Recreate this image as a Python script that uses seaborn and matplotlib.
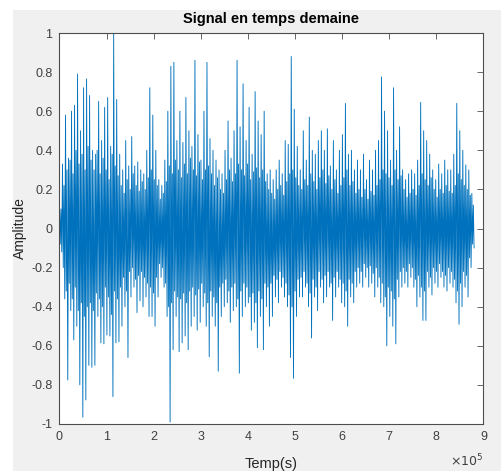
import numpy as np
import pandas as pd
import matplotlib
matplotlib.use("Agg")
import matplotlib.pyplot as plt
import seaborn as sns
from matplotlib.patches import Rectangle

# positive peaks of the signal, left to right
upper = [0.12, 0.33, 0.58, 0.36, 0.60, 0.63, 0.79, 0.50, 0.72, 0.765,
         0.68, 0.40, 0.38, 0.65, 0.45, 0.62, 0.67, 0.42, 1.00, 0.66,
         0.38, 0.30, 0.45, 0.32, 0.47, 0.32, 0.34, 0.30, 0.28, 0.40,
         0.72, 0.58, 0.40, 0.25, 0.22, 0.35, 0.60, 0.83, 0.85, 0.45,
         0.60, 0.44, 0.67, 0.50, 0.42, 0.86, 0.48, 0.35, 0.60, 0.85,
         0.46, 0.40, 0.35, 0.30, 0.28, 0.40, 0.55, 0.36, 0.50, 0.86,
         0.52, 0.74, 0.45, 0.62, 0.38, 0.70, 0.55, 0.48, 0.60, 0.28,
         0.30, 0.25, 0.30, 0.35, 0.28, 0.45, 0.43, 0.88, 0.61, 0.42,
         0.30, 0.50, 0.35, 0.57, 0.40, 0.38, 0.45, 0.50, 0.40, 0.51,
         0.32, 0.45, 0.30, 0.40, 0.48, 0.64, 0.38, 0.40, 0.30, 0.35,
         0.30, 0.38, 0.25, 0.35, 0.30, 0.40, 0.45, 0.775, 0.60, 0.50,
         0.35, 0.72, 0.40, 0.52, 0.30, 0.25, 0.28, 0.30, 0.28, 0.35,
         0.645, 0.50, 0.45, 0.38, 0.30, 0.25, 0.33, 0.28, 0.35, 0.30,
         0.30, 0.38, 0.64, 0.50, 0.40, 0.325, 0.30, 0.18]

# negative peaks of the signal, left to right
lower = [-0.12, -0.36, -0.775, -0.42, -0.57, -0.50, -0.80, -0.965, -0.877, -0.70,
         -0.71, -0.70, -0.45, -0.585, -0.59, -0.545, -0.55, -0.86, -0.585, -0.58,
         -0.50, -0.40, -0.66, -0.35, -0.30, -0.43, -0.37, -0.40, -0.35, -0.45,
         -0.45, -0.50, -0.35, -0.25, -0.30, -0.45, -0.99, -0.62, -0.45, -0.63,
         -0.585, -0.55, -0.62, -0.50, -0.45, -0.52, -0.48, -0.40, -0.50, -0.656,
         -0.45, -0.50, -0.73, -0.45, -0.40, -0.38, -0.48, -0.42, -0.40, -0.74,
         -0.45, -0.40, -0.38, -0.52, -0.48, -0.61, -0.45, -0.62, -0.40, -0.50,
         -0.45, -0.35, -0.38, -0.30, -0.35, -0.40, -0.66, -0.766, -0.45, -0.35,
         -0.35, -0.30, -0.40, -0.56, -0.35, -0.42, -0.30, -0.38, -0.35, -0.30,
         -0.47, -0.35, -0.30, -0.38, -0.40, -0.50, -0.35, -0.38, -0.30, -0.28,
         -0.30, -0.25, -0.30, -0.28, -0.35, -0.30, -0.38, -0.40, -0.60, -0.45,
         -0.50, -0.59, -0.35, -0.30, -0.28, -0.30, -0.25, -0.30, -0.40, -0.35,
         -0.47, -0.47, -0.30, -0.34, -0.28, -0.30, -0.25, -0.30, -0.32, -0.28,
         -0.30, -0.38, -0.49, -0.40, -0.30, -0.35, -0.20, -0.10]

# smaller swings that make up the dense core of the signal
core_hi = [0.10, 0.22, 0.30, 0.35, 0.28, 0.40, 0.33, 0.38, 0.30, 0.42,
           0.35, 0.30, 0.40, 0.28, 0.36, 0.30, 0.25, 0.38, 0.32, 0.27,
           0.22, 0.18, 0.25, 0.20, 0.28, 0.22, 0.19, 0.24, 0.20, 0.26,
           0.30, 0.25, 0.22, 0.15, 0.18, 0.24, 0.32, 0.28, 0.35, 0.30,
           0.26, 0.33, 0.28, 0.36, 0.30, 0.27, 0.34, 0.25, 0.30, 0.32,
           0.28, 0.22, 0.26, 0.20, 0.18, 0.25, 0.30, 0.24, 0.28, 0.33,
           0.30, 0.27, 0.33, 0.25, 0.29, 0.31, 0.26, 0.30, 0.24, 0.20,
           0.18, 0.15, 0.20, 0.22, 0.17, 0.24, 0.28, 0.30, 0.26, 0.22,
           0.20, 0.25, 0.22, 0.28, 0.24, 0.20, 0.26, 0.30, 0.23, 0.27,
           0.20, 0.25, 0.18, 0.22, 0.26, 0.30, 0.22, 0.24, 0.18, 0.20,
           0.16, 0.20, 0.15, 0.19, 0.17, 0.22, 0.25, 0.30, 0.28, 0.26,
           0.22, 0.30, 0.25, 0.27, 0.20, 0.16, 0.18, 0.20, 0.17, 0.22,
           0.28, 0.25, 0.22, 0.26, 0.20, 0.16, 0.20, 0.18, 0.22, 0.19,
           0.18, 0.22, 0.28, 0.25, 0.22, 0.20, 0.17, 0.12]

core_lo = [-0.08, -0.20, -0.32, -0.28, -0.36, -0.30, -0.42, -0.38, -0.45, -0.40,
           -0.38, -0.42, -0.33, -0.36, -0.40, -0.30, -0.35, -0.44, -0.32, -0.36,
           -0.30, -0.25, -0.32, -0.22, -0.20, -0.26, -0.24, -0.22, -0.25, -0.28,
           -0.30, -0.33, -0.25, -0.18, -0.20, -0.28, -0.40, -0.38, -0.32, -0.35,
           -0.36, -0.33, -0.38, -0.32, -0.30, -0.34, -0.31, -0.28, -0.33, -0.38,
           -0.32, -0.35, -0.38, -0.30, -0.28, -0.26, -0.32, -0.30, -0.28, -0.36,
           -0.32, -0.28, -0.30, -0.35, -0.33, -0.38, -0.32, -0.36, -0.28, -0.30,
           -0.28, -0.24, -0.26, -0.22, -0.25, -0.28, -0.34, -0.40, -0.32, -0.26,
           -0.25, -0.22, -0.28, -0.33, -0.26, -0.30, -0.22, -0.26, -0.24, -0.22,
           -0.28, -0.25, -0.22, -0.26, -0.28, -0.32, -0.26, -0.28, -0.22, -0.20,
           -0.22, -0.18, -0.20, -0.19, -0.23, -0.20, -0.25, -0.28, -0.35, -0.30,
           -0.32, -0.36, -0.26, -0.22, -0.20, -0.22, -0.18, -0.20, -0.26, -0.24,
           -0.30, -0.32, -0.22, -0.25, -0.20, -0.22, -0.18, -0.22, -0.24, -0.20,
           -0.22, -0.26, -0.32, -0.28, -0.22, -0.24, -0.15, -0.08]

n_samples = 880000

# interleave: peak up, core down, core up, peak down
amp = np.column_stack([upper, core_lo, core_hi, lower]).ravel()
t = np.arange(len(amp)) * (n_samples / (len(amp) - 1))
df = pd.DataFrame({"t": t, "amp": amp})

sns.set_style("white")
plt.rcParams['font.family'] = ['Liberation Sans', 'DejaVu Sans']

fig = plt.figure(figsize=(5.02, 4.71), dpi=100, facecolor='white')
fig.patches.append(Rectangle((13 / 502, 0), 1, 1 - 10 / 471, transform=fig.transFigure,
                             facecolor='#f0f0f0', edgecolor='none', zorder=-10))
ax = fig.add_axes([59.5 / 502, 47 / 471, 424 / 502, 391 / 471])
ax.set_facecolor('white')

sns.lineplot(data=df, x="t", y="amp", ax=ax, color='#0072BD', linewidth=0.65,
             sort=False, estimator=None)

ax.set_xlim(0, 9e5)
ax.set_ylim(-1, 1)
ax.set_xticks(np.arange(0, 9.1e5, 1e5))
ax.set_xticklabels([str(i) for i in range(10)])
ax.set_yticks(np.arange(-1, 1.01, 0.2))
ax.set_yticklabels(['-1', '-0.8', '-0.6', '-0.4', '-0.2', '0', '0.2', '0.4', '0.6', '0.8', '1'])
ax.tick_params(direction='in', top=True, right=True, length=4, width=0.6,
               colors='#4d4d4d', labelsize=9, labelcolor='#404040', pad=5)
for s in ax.spines.values():
    s.set_color('#4d4d4d')
    s.set_linewidth(0.8)

# exponent label like matlab puts it
ax.text(1.0, -0.095, r'$\times10^5$', transform=ax.transAxes, ha='right', va='center',
        fontsize=9, color='#404040')

ax.set_title('Signal en temps demaine', fontsize=10.5, fontweight='bold', color='black', pad=7)
ax.set_xlabel('Temp(s)', fontsize=10.5, color='#262626', labelpad=10)
ax.set_ylabel('Amplitude', fontsize=10, color='#262626', labelpad=3)

fig.savefig('out.png', dpi=100, facecolor=fig.get_facecolor())
